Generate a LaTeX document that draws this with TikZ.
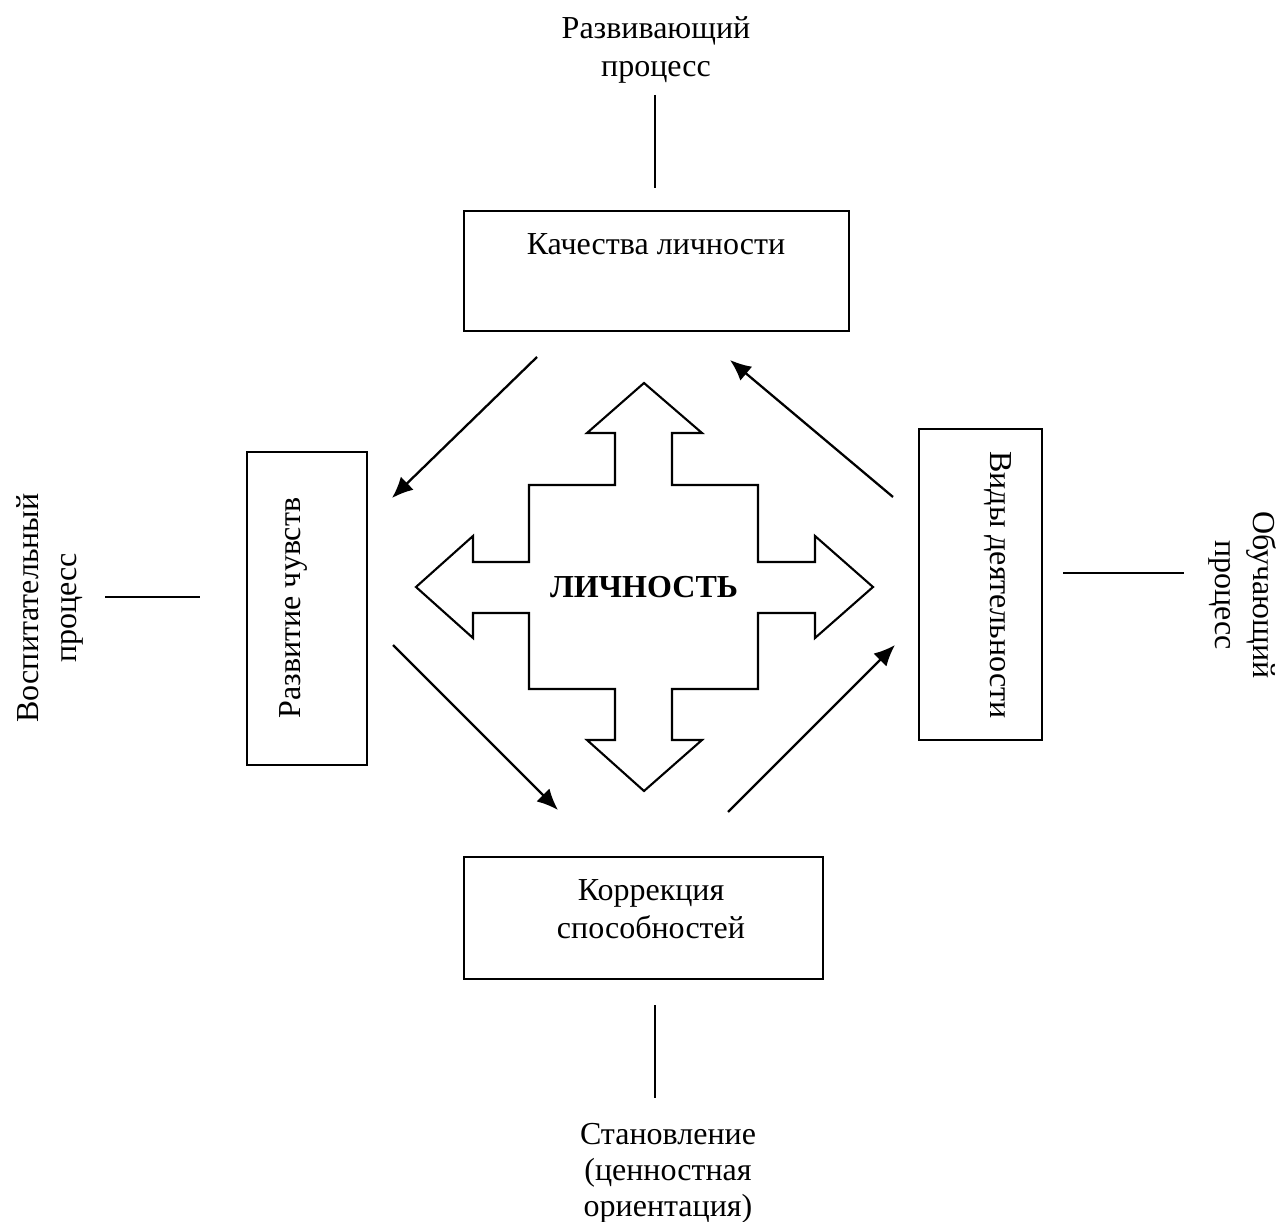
\documentclass[tikz,border=0pt]{standalone}
\usepackage{fontspec}
\setmainfont{Liberation Serif}
\usetikzlibrary{positioning,calc,arrows.meta}

\tikzset{
  box/.style={draw, line width=0.6pt, inner sep=0pt},
  lbl/.style={align=center, font=\fontsize{9.1}{10.8}\selectfont, inner sep=0pt},
  link/.style={line width=0.6pt},
  flow/.style={line width=0.65pt, -{Latex[length=6pt,width=5.2pt]}},
}

\begin{document}
\begin{tikzpicture}[x=0.01cm, y=-0.01cm]
  \useasboundingbox (0,0) rectangle (1282,1222);
  % boxes
  \node[box, minimum width=3.85cm, minimum height=1.2cm] (kach) at (656.5,271) {};
  \node[lbl] (kachtxt) at (656,244) {Качества личности};
  \node[box, minimum width=1.2cm, minimum height=3.13cm] (razv) at (307,608.5) {};
  \node[lbl, rotate=90] (razvtxt) at (293,608) {Развитие чувств};
  \node[box, minimum width=1.23cm, minimum height=3.11cm] (vidy) at (980.5,584.5) {};
  \node[lbl, rotate=-90] (vidytxt) at (998,585) {Виды деятельности};
  \node[box, minimum width=3.59cm, minimum height=1.22cm] (korr) at (643.5,918) {};
  \node[lbl] (korrtxt) at (651,909) {Коррекция\\способностей};
  % outer labels
  \node[lbl] (top) at (656,50) {Развивающий\\процесс};
  \node[lbl, rotate=90] (left) at (50,608) {Воспитательный\\процесс};
  \node[lbl, rotate=-90] (right) at (1243,595) {Обучающий\\процесс};
  \node[lbl, font=\fontsize{9.1}{10.2}\selectfont] (bottom) at (668,1173) {Становление\\(ценностная\\ориентация)};
  % plain links
  \coordinate (t1) at (655,95);   \coordinate (t2) at (655,188);
  \coordinate (l1) at (105,597);  \coordinate (l2) at (200,597);
  \coordinate (r1) at (1063,573); \coordinate (r2) at (1184,573);
  \coordinate (b1) at (655,1005); \coordinate (b2) at (655,1098);
  \draw[link] (t1) -- (t2);
  \draw[link] (l1) -- (l2);
  \draw[link] (r1) -- (r2);
  \draw[link] (b1) -- (b2);
  % cycle arrows
  \coordinate (a1) at (537,357); \coordinate (a2) at (392,498);
  \coordinate (a3) at (393,645); \coordinate (a4) at (558,810);
  \coordinate (a5) at (728,812); \coordinate (a6) at (895,645);
  \coordinate (a7) at (893,497); \coordinate (a8) at (730,360);
  \draw[flow] (a1) -- (a2);
  \draw[flow] (a3) -- (a4);
  \draw[flow] (a5) -- (a6);
  \draw[flow] (a7) -- (a8);
  % central cross
  \draw[line width=0.6pt] (644,383) -- (702,433) -- (672,433) -- (672,485) -- (758,485)
    -- (758,562) -- (815,562) -- (815,536) -- (873,587) -- (815,638) -- (815,613)
    -- (758,613) -- (758,689) -- (672,689) -- (672,740) -- (702,740) -- (644,791)
    -- (587,740) -- (615,740) -- (615,689) -- (529,689) -- (529,613) -- (473,613)
    -- (473,638) -- (416,587) -- (473,536) -- (473,562) -- (529,562) -- (529,485)
    -- (615,485) -- (615,433) -- (587,433) -- cycle;
  \node[lbl, font=\fontsize{9.1}{10.8}\selectfont\bfseries] (lichn) at (644,587) {ЛИЧНОСТЬ};
\end{tikzpicture}
\end{document}
